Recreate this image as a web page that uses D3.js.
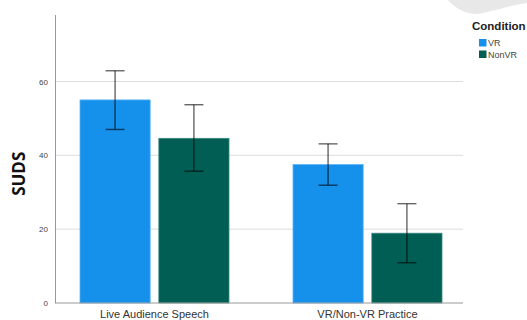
<!DOCTYPE html>
<html>
<head>
<meta charset="utf-8">
<script src="https://cdn.jsdelivr.net/npm/d3@7"></script>
<style>
  body { margin: 0; background: #fff; }
  svg text { font-family: "Liberation Sans", Arial, sans-serif; }
</style>
</head>
<body>
<div id="chart"></div>
<script>
const categories = ["Live Audience Speech", "VR/Non-VR Practice"];
const conditions = ["VR", "NonVR"];
const means = {VR: [55, 37.5], NonVR: [44.6, 18.9]};
const errLow = {VR: [47.0, 31.9], NonVR: [35.7, 10.9]};
const errHigh = {VR: [62.9, 43.1], NonVR: [53.7, 26.9]};
const yTicks = [0, 20, 40, 60];
const colors = {VR: "#1590eb", NonVR: "#005e54"};

const W = 527, H = 320;

const svg = d3.select("#chart")
  .append("svg")
  .attr("width", W)
  .attr("height", H);

// faint grey shape at top right of the original picture
svg.append("path")
  .attr("d", "M448,0 C455,8 465,14 478,14 L500,9 C510,6 520,4 527,3 L527,0 Z")
  .attr("fill", "#e8e8e8");

const plotLeft = 55, plotRight = 463;

const y = d3.scaleLinear()
  .domain([0, 78])
  .range([303, 15]);

const x0 = d3.scaleBand()
  .domain(categories)
  .range([48, 474]);

const x1 = d3.scaleBand()
  .domain(conditions)
  .range([32, x0.bandwidth() - 32])
  .paddingInner(0.11);

// gridlines
svg.append("g")
  .selectAll("line")
  .data(yTicks.filter(d => d > 0))
  .join("line")
  .attr("x1", plotLeft)
  .attr("x2", plotRight)
  .attr("y1", d => y(d))
  .attr("y2", d => y(d))
  .attr("stroke", "#dcdcdc")
  .attr("stroke-width", 1);

// y axis
const yAxis = svg.append("g")
  .attr("transform", `translate(${plotLeft},0)`)
  .call(d3.axisLeft(y).tickValues(yTicks).tickSize(0).tickPadding(7));
yAxis.select(".domain").remove();
yAxis.selectAll("text")
  .style("font-size", "8px")
  .style("fill", "#444");

svg.append("line")
  .attr("x1", plotLeft + 0.5)
  .attr("x2", plotLeft + 0.5)
  .attr("y1", y(78))
  .attr("y2", y(0))
  .attr("stroke", "#999")
  .attr("stroke-width", 1);

// bars
const rows = [];
categories.forEach((c, i) => {
  conditions.forEach(k => {
    rows.push({cat: c, cond: k, mean: means[k][i], lo: errLow[k][i], hi: errHigh[k][i]});
  });
});

svg.append("g")
  .selectAll("rect")
  .data(rows)
  .join("rect")
  .attr("x", d => x0(d.cat) + x1(d.cond))
  .attr("y", d => y(d.mean))
  .attr("width", x1.bandwidth())
  .attr("height", d => y(0) - y(d.mean))
  .attr("fill", d => colors[d.cond])
  .attr("stroke", d => d.cond === "VR" ? "#5ab4f3" : "#3a8a80")
  .attr("stroke-width", 0.8);

// baseline
svg.append("line")
  .attr("x1", plotLeft)
  .attr("x2", plotRight)
  .attr("y1", y(0))
  .attr("y2", y(0))
  .attr("stroke", "#999")
  .attr("stroke-width", 1.2);

// error bars
const eb = svg.append("g")
  .selectAll("g")
  .data(rows)
  .join("g")
  .attr("transform", d => `translate(${x0(d.cat) + x1(d.cond) + x1.bandwidth() / 2},0)`)
  .attr("stroke", "#000")
  .attr("stroke-opacity", 0.6)
  .attr("stroke-width", 1.4);

eb.append("line")
  .attr("x1", 0).attr("x2", 0)
  .attr("y1", d => y(d.lo))
  .attr("y2", d => y(d.hi));
eb.append("line")
  .attr("x1", -9.5).attr("x2", 9.5)
  .attr("y1", d => y(d.hi))
  .attr("y2", d => y(d.hi));
eb.append("line")
  .attr("x1", -9.5).attr("x2", 9.5)
  .attr("y1", d => y(d.lo))
  .attr("y2", d => y(d.lo));

// x labels
svg.append("g")
  .selectAll("text")
  .data(categories)
  .join("text")
  .attr("x", d => x0(d) + x0.bandwidth() / 2)
  .attr("y", 318)
  .attr("text-anchor", "middle")
  .style("font-size", "11px")
  .style("fill", "#333")
  .text(d => d);

// y title
svg.append("text")
  .attr("transform", `translate(25,${y(35)}) rotate(-90)`)
  .attr("text-anchor", "middle")
  .style("font-family", "'Open Sans', sans-serif")
  .style("font-size", "17px")
  .style("font-weight", "bold")
  .style("fill", "#111")
  .text("SUDS");

// legend
const legend = svg.append("g")
  .attr("transform", "translate(472,0)");

legend.append("text")
  .attr("x", 0)
  .attr("y", 30)
  .style("font-size", "11.5px")
  .style("font-weight", "bold")
  .style("fill", "#222")
  .text("Condition");

const li = legend.selectAll(".item")
  .data(conditions)
  .join("g")
  .attr("class", "item")
  .attr("transform", (d, i) => `translate(7,${39 + i * 11.5})`);

li.append("rect")
  .attr("width", 7.5)
  .attr("height", 7.5)
  .attr("fill", d => colors[d]);

li.append("text")
  .attr("x", 9)
  .attr("y", 7)
  .style("font-size", "9px")
  .style("fill", "#444")
  .text(d => d);
</script>
</body>
</html>
